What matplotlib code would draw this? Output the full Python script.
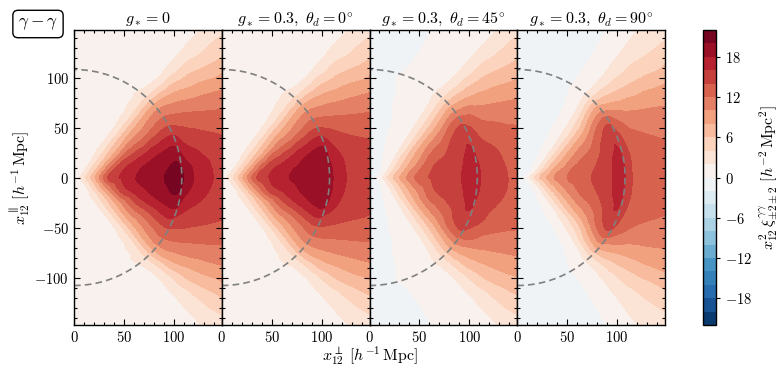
import numpy as np
import matplotlib
matplotlib.use("Agg")
import matplotlib.pyplot as plt
import matplotlib.tri as mtri
from matplotlib.ticker import MultipleLocator, FuncFormatter

plt.rcParams["mathtext.fontset"] = "cm"
plt.rcParams["font.family"] = "serif"
plt.rcParams["font.serif"] = ["DejaVu Serif"]

R_NODES = [0, 10, 20, 35, 50, 65, 80, 95, 105, 115, 130, 150, 180, 230]
ANG_NODES = [0, 15, 30, 40, 50, 60, 75, 90]

# x^2 xi readings, one row per angle (upper half, mirrored for y < 0)
P1_VALUES = [
    [1.0, 3.5, 7.5, 14.5, 16.5, 18.3, 19.3, 20.3, 21.0, 18.8, 16.8, 15.3, 14.0, 12.0],
    [1.0, 2.8, 5.8, 11.0, 14.8, 16.2, 17.5, 18.4, 18.6, 16.5, 15.3, 14.3, 13.2, 11.5],
    [1.0, 1.9, 3.8, 6.4, 8.8, 11.0, 11.8, 13.0, 13.5, 13.0, 12.0, 11.0, 10.0, 9.0],
    [1.0, 1.5, 2.2, 4.0, 5.5, 6.8, 7.8, 9.0, 9.5, 9.2, 8.2, 7.0, 5.8, 4.8],
    [1.0, 1.2, 1.7, 2.0, 2.1, 2.3, 2.6, 2.9, 3.0, 2.5, 2.0, 1.95, 1.9, 1.85],
    [1.0, 1.0, 1.1, 1.3, 1.4, 1.5, 1.5, 1.6, 1.6, 1.5, 1.4, 1.3, 1.3, 1.2],
    [1.0, 1.0, 1.0, 1.0, 1.1, 1.1, 1.2, 1.2, 1.3, 1.2, 1.2, 1.1, 1.1, 1.1],
    [1.0, 1.0, 1.0, 1.0, 1.0, 1.0, 1.0, 1.0, 1.0, 1.0, 1.0, 1.0, 1.0, 1.0],
]
P2_VALUES = [
    [1.0, 3.5, 7.5, 14.0, 16.4, 17.8, 18.6, 19.2, 19.3, 17.3, 15.5, 14.5, 13.5, 12.0],
    [1.0, 2.8, 5.8, 10.8, 14.5, 15.8, 17.2, 18.3, 18.5, 16.3, 14.8, 14.0, 13.0, 11.5],
    [1.0, 1.9, 3.7, 6.2, 8.5, 10.6, 11.4, 12.5, 13.0, 12.5, 11.5, 10.6, 9.7, 8.8],
    [1.0, 1.5, 2.1, 3.8, 5.2, 6.5, 7.4, 8.5, 9.0, 8.7, 7.8, 6.8, 5.6, 4.7],
    [1.0, 1.2, 1.6, 1.9, 2.0, 2.2, 2.5, 2.8, 2.9, 2.4, 2.0, 1.95, 1.9, 1.85],
    [1.0, 1.0, 1.1, 1.3, 1.4, 1.5, 1.5, 1.6, 1.6, 1.5, 1.4, 1.3, 1.3, 1.2],
    [1.0, 1.0, 1.0, 1.0, 1.1, 1.1, 1.2, 1.2, 1.3, 1.2, 1.2, 1.1, 1.1, 1.1],
    [1.0, 1.0, 1.0, 1.0, 1.0, 1.0, 1.0, 1.0, 1.0, 1.0, 1.0, 1.0, 1.0, 1.0],
]
P3_VALUES = [
    [-0.8, 0.9, 4.7, 9.4, 13.0, 14.4, 15.2, 16.2, 16.9, 15.5, 14.4, 13.6, 12.5, 11.0],
    [-0.8, 0.2, 3.0, 7.1, 10.3, 13.3, 14.3, 15.5, 16.3, 14.8, 13.8, 12.8, 12.0, 10.5],
    [-0.8, -0.3, 1.2, 4.3, 7.0, 9.2, 10.8, 13.2, 14.0, 13.0, 11.0, 10.0, 9.2, 8.3],
    [-0.8, -0.5, 0.4, 2.0, 3.5, 5.0, 6.3, 7.8, 8.6, 8.2, 7.4, 6.6, 5.6, 4.8],
    [-0.8, -0.6, 0.0, 0.6, 1.2, 1.6, 2.0, 2.4, 2.7, 2.4, 2.0, 1.9, 1.8, 1.75],
    [-0.8, -0.7, -0.2, 0.1, 0.3, 0.5, 0.7, 0.9, 1.1, 1.0, 0.8, 0.7, 0.6, 0.5],
    [-0.8, -0.8, -0.6, -0.4, -0.2, -0.2, -0.1, -0.1, 0.0, -0.2, -0.4, -0.5, -0.5, -0.6],
    [-0.8, -0.8, -0.8, -0.8, -0.8, -0.8, -0.8, -0.8, -0.8, -0.8, -0.8, -0.8, -0.8, -0.8],
]
P4_VALUES = [
    [-0.8, 1.3, 5.1, 9.5, 12.0, 13.3, 14.5, 16.0, 16.9, 14.0, 13.3, 12.8, 12.0, 10.5],
    [-0.8, 0.0, 2.8, 7.0, 9.8, 12.0, 13.3, 15.2, 16.2, 13.8, 12.7, 12.0, 11.2, 10.0],
    [-0.8, -0.4, 0.6, 3.3, 5.8, 7.9, 9.8, 13.0, 14.2, 12.0, 10.2, 9.4, 8.7, 8.0],
    [-0.8, -0.6, -0.2, 1.0, 2.3, 3.6, 5.3, 8.0, 9.0, 7.8, 6.5, 5.8, 5.0, 4.3],
    [-0.8, -0.7, -0.5, -0.1, 0.4, 0.8, 1.2, 1.8, 2.3, 2.1, 2.0, 2.1, 2.2, 2.2],
    [-0.8, -0.8, -0.8, -0.7, -0.6, -0.5, -0.4, -0.2, 0.0, -0.1, -0.2, -0.2, -0.2, -0.3],
    [-0.8, -0.8, -0.8, -0.8, -0.9, -0.9, -0.9, -0.8, -0.8, -0.8, -0.9, -0.9, -0.9, -0.9],
    [-0.8, -0.8, -0.8, -0.8, -0.8, -0.8, -0.8, -0.8, -0.8, -0.8, -0.8, -0.8, -0.8, -0.8],
]
PANELS = [P1_VALUES, P2_VALUES, P3_VALUES, P4_VALUES]
TITLES = [r"$g_* = 0$",
          r"$g_* = 0.3,\ \theta_d = 0^{\circ}$",
          r"$g_* = 0.3,\ \theta_d = 45^{\circ}$",
          r"$g_* = 0.3,\ \theta_d = 90^{\circ}$"]
LEVELS = np.arange(-22, 23, 2)
CBAR_TICKS = [-18, -12, -6, 0, 6, 12, 18]
BAO_R = 108.0
XMAX = 148.0
YMAX = 147.5


def make_tri(table):
    ang = np.array(ANG_NODES, float)
    vals = np.array(table, float)
    full_ang = np.concatenate([-ang[:0:-1], ang])
    full_vals = np.concatenate([vals[:0:-1], vals])
    r = np.array(R_NODES, float)
    na, nr = full_vals.shape
    xs, ys, zs = [0.0], [0.0], [full_vals[0, 0]]
    idx = {}
    for j in range(na):
        t = np.radians(full_ang[j])
        for i in range(1, nr):
            idx[(i, j)] = len(xs)
            xs.append(r[i] * np.cos(t))
            ys.append(r[i] * np.sin(t))
            zs.append(full_vals[j, i])
    tris = []
    for j in range(na - 1):
        tris.append([0, idx[(1, j)], idx[(1, j + 1)]])
        for i in range(1, nr - 1):
            a, b = idx[(i, j)], idx[(i + 1, j)]
            c, d = idx[(i + 1, j + 1)], idx[(i, j + 1)]
            tris.append([a, b, c])
            tris.append([a, c, d])
    return mtri.Triangulation(xs, ys, tris), np.array(zs)


math_fmt = FuncFormatter(lambda v, p: rf"${v:.0f}$")

fig = plt.figure(figsize=(7.83, 3.75), dpi=100)
left0 = 74 / 783
pw = (665 - 74) / 4 / 783
bottom = 50 / 375
height = 295 / 375

circ = np.radians(np.linspace(-90, 90, 361))
axes = []
for k, table in enumerate(PANELS):
    ax = fig.add_axes([left0 + k * pw, bottom, pw, height])
    tri, z = make_tri(table)
    # smooth the read-off with matplotlib's own local cubic interpolator
    interp = mtri.CubicTriInterpolator(tri, z, kind="geom")
    tri_f, z_f = mtri.UniformTriRefiner(tri).refine_field(z, triinterpolator=interp,
                                                          subdiv=3)
    cs = ax.tricontourf(tri_f, z_f, levels=LEVELS, cmap="RdBu_r")
    ax.plot(BAO_R * np.cos(circ), BAO_R * np.sin(circ), color="gray",
            ls=(0, (4, 2.5)), lw=1.2)
    ax.set_xlim(0, XMAX)
    ax.set_ylim(-YMAX, YMAX)
    ax.xaxis.set_major_locator(MultipleLocator(50))
    ax.xaxis.set_minor_locator(MultipleLocator(10))
    ax.yaxis.set_major_locator(MultipleLocator(50))
    ax.yaxis.set_minor_locator(MultipleLocator(10))
    ax.xaxis.set_major_formatter(math_fmt)
    ax.yaxis.set_major_formatter(math_fmt)
    ax.tick_params(which="both", direction="in", top=True, right=True,
                   labelsize=10.5, width=0.8)
    ax.tick_params(which="major", length=4.5)
    ax.tick_params(which="minor", length=2.5)
    if k > 0:
        ax.tick_params(labelleft=False)
    for sp in ax.spines.values():
        sp.set_linewidth(1.0)
    ax.set_title(TITLES[k], fontsize=11.5, pad=5)
    axes.append(ax)

axes[0].set_ylabel(r"$x_{12}^{\parallel}\ [h^{-1}\,\mathrm{Mpc}]$",
                   fontsize=11.5, labelpad=2)
fig.text(left0 + 2 * pw, 0.05, r"$x_{12}^{\perp}\ [h^{-1}\,\mathrm{Mpc}]$",
         ha="center", va="center", fontsize=11.5)

fig.text(38 / 783, 1 - 24 / 375, r"$\gamma - \gamma$", ha="center", va="center",
         fontsize=12.5,
         bbox=dict(boxstyle="round,pad=0.3", fc="white", ec="black", lw=1.0))

cax = fig.add_axes([703 / 783, bottom, 13 / 783, height])
cb = fig.colorbar(cs, cax=cax, ticks=CBAR_TICKS)
cb.ax.yaxis.set_major_formatter(math_fmt)
cb.ax.tick_params(direction="out", length=3, width=0.8, labelsize=10.5)
cb.outline.set_linewidth(1.0)
cb.set_label(r"$x_{12}^2\,\xi^{\gamma\gamma}_{\pm 2 \pm 2}\ [h^{-2}\,\mathrm{Mpc}^2]$",
             fontsize=11.5, labelpad=4)

fig.savefig("out.png", dpi=100)
